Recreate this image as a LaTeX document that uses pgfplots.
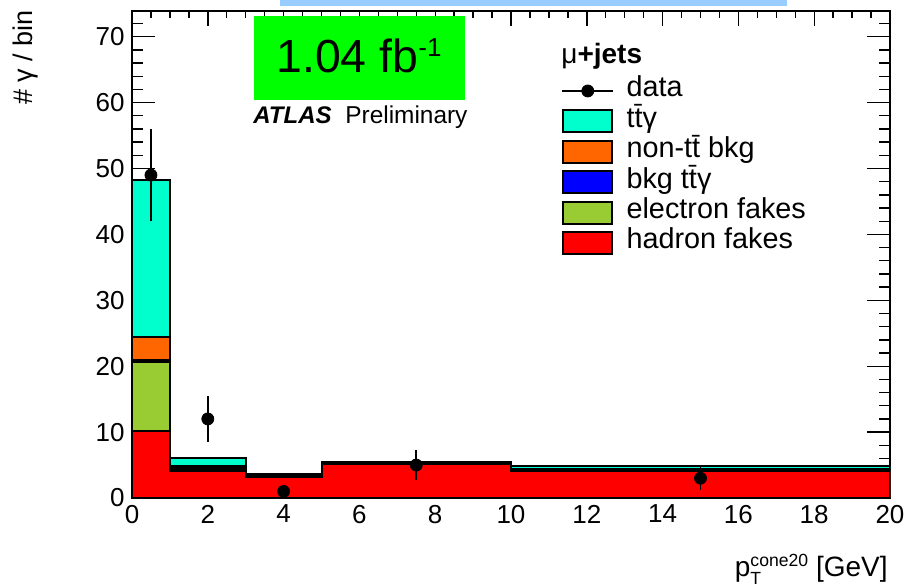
\documentclass[border=0pt]{standalone}
\usepackage{fontspec}
\setmainfont{Liberation Sans}
\usepackage{amsmath}
\usepackage{pgfplots}
\pgfplotsset{compat=1.18}
\definecolor{ttg}{RGB}{0,255,204}
\definecolor{nontt}{RGB}{255,102,0}
\definecolor{bkgttg}{RGB}{0,0,255}
\definecolor{efake}{RGB}{153,204,51}
\definecolor{hfake}{RGB}{255,0,0}
\definecolor{lumigreen}{RGB}{0,255,0}
\definecolor{topblue}{RGB}{153,204,255}
\begin{document}
\begin{tikzpicture}
\useasboundingbox (0,0) rectangle (453pt,293pt);
\fill[topblue] (140pt,290pt) rectangle (393.5pt,293pt);
\begin{axis}[
  at={(66pt,44pt)}, anchor=south west,
  scale only axis, width=379pt, height=243.5pt,
  xmin=0, xmax=20, ymin=0, ymax=73.9,
  axis line style={line width=1pt},
  tick align=inside,
  xtick={0,2,...,20}, minor xtick={0,0.5,...,20},
  ytick={0,10,...,70}, minor ytick={0,2,...,72},
  tick style={black, line width=0.7pt},
  xtick style={/pgfplots/major tick length=7.5pt,/pgfplots/minor tick length=3.5pt},
  ytick style={/pgfplots/major tick length=11.5pt,/pgfplots/minor tick length=5.5pt},
  /pgf/number format/assume math mode=true,
  ticklabel style={font=\fontsize{13}{13}\selectfont},
  yticklabel style={inner xsep=3.5pt},
  legend style={
    at={(0.5666,0.867)}, anchor=north west,
    draw=none, fill=none, inner sep=0pt, outer sep=0pt,
    row sep=0pt,
    font=\fontsize{14.4}{15.2}\selectfont,
    nodes={inner sep=0pt, text height=10.6pt, text depth=4.6pt},
    /tikz/every odd column/.append style={column sep=6.25pt},
  },
  legend cell align=left,
]
\addlegendimage{legend image code/.code={\draw[black, line width=0.8pt] (0pt,0pt)--(25.5pt,0pt); \fill[black] (12.75pt,0pt) circle (3pt);}}
\addlegendentry{data}
\addlegendimage{legend image code/.code={\draw[fill=ttg, line width=1pt] (0.5pt,-5.5pt) rectangle (25pt,5.5pt);}}
\addlegendentry{t\=tγ}
\addlegendimage{legend image code/.code={\draw[fill=nontt, line width=1pt] (0.5pt,-5.5pt) rectangle (25pt,5.5pt);}}
\addlegendentry{non-t\=t bkg}
\addlegendimage{legend image code/.code={\draw[fill=bkgttg, line width=1pt] (0.5pt,-5.5pt) rectangle (25pt,5.5pt);}}
\addlegendentry{bkg t\=tγ}
\addlegendimage{legend image code/.code={\draw[fill=efake, line width=1pt] (0.5pt,-5.5pt) rectangle (25pt,5.5pt);}}
\addlegendentry{electron fakes}
\addlegendimage{legend image code/.code={\draw[fill=hfake, line width=1pt] (0.5pt,-5.5pt) rectangle (25pt,5.5pt);}}
\addlegendentry{hadron fakes}
% stacked histograms (cumulative), bins 0-1,1-3,3-5,5-10,10-20
\addplot[const plot, fill=ttg, draw=black, line width=1pt, forget plot] coordinates {(0,48.2) (1,6.1) (3,3.6) (5,5.5) (10,4.85) (20,4.85)} \closedcycle;
\addplot[const plot, fill=nontt, draw=black, line width=1pt, forget plot] coordinates {(0,24.4) (1,4.8) (3,3.5) (5,5.4) (10,4.35) (20,4.35)} \closedcycle;
\addplot[const plot, fill=bkgttg, draw=black, line width=1pt, forget plot] coordinates {(0,20.95) (1,4.5) (3,3.35) (5,5.25) (10,4.25) (20,4.25)} \closedcycle;
\addplot[const plot, fill=efake, draw=black, line width=1pt, forget plot] coordinates {(0,20.7) (1,4.35) (3,3.3) (5,5.2) (10,4.2) (20,4.2)} \closedcycle;
\addplot[const plot, fill=hfake, draw=black, line width=1pt, forget plot] coordinates {(0,10.2) (1,4.1) (3,3.2) (5,5.1) (10,4.05) (20,4.05)} \closedcycle;
\addplot[only marks, mark=*, mark size=3pt, black, forget plot,
  error bars/.cd, y dir=both, y explicit, error mark=none,
  error bar style={line width=0.9pt, black}]
  coordinates {(0.5,49) +- (0,7) (2,12) +- (0,3.46) (4,1) +- (0,1) (7.5,5) +- (0,2.24) (15,3) +- (0,1.73)};
\end{axis}
\node[fill=lumigreen, minimum width=105.5pt, minimum height=42pt, inner sep=0pt, anchor=north west] at (127pt,285pt) {};
\node[anchor=base, inner sep=0pt, font=\fontsize{23.2}{24}\selectfont] at (179.5pt,256.7pt) {1.04 fb\raisebox{8pt}{\fontsize{13}{13}\selectfont -1}};
\node[anchor=base west, inner sep=0pt, font=\fontsize{12}{12}\selectfont\bfseries\itshape] at (126.5pt,231.3pt) {ATLAS};
\node[anchor=base west, inner sep=0pt, font=\fontsize{12.2}{12}\selectfont] at (172.5pt,231.3pt) {Preliminary};
\node[anchor=base west, inner sep=0pt, font=\fontsize{14}{14}\selectfont] at (280.5pt,261.5pt) {μ\textbf{+jets}};
\node[anchor=base east, inner sep=0pt, font=\fontsize{14}{14}\selectfont] at (444pt,5pt) {p\rlap{\raisebox{-4.3pt}{\fontsize{8.8}{9}\selectfont T}}\raisebox{5pt}{\fontsize{8.8}{9}\selectfont cone20} [GeV]};
\node[anchor=base east, rotate=90, inner sep=0pt, font=\fontsize{13.5}{14}\selectfont] at (16.5pt,288pt) {\# γ / bin};
\end{tikzpicture}
\end{document}
